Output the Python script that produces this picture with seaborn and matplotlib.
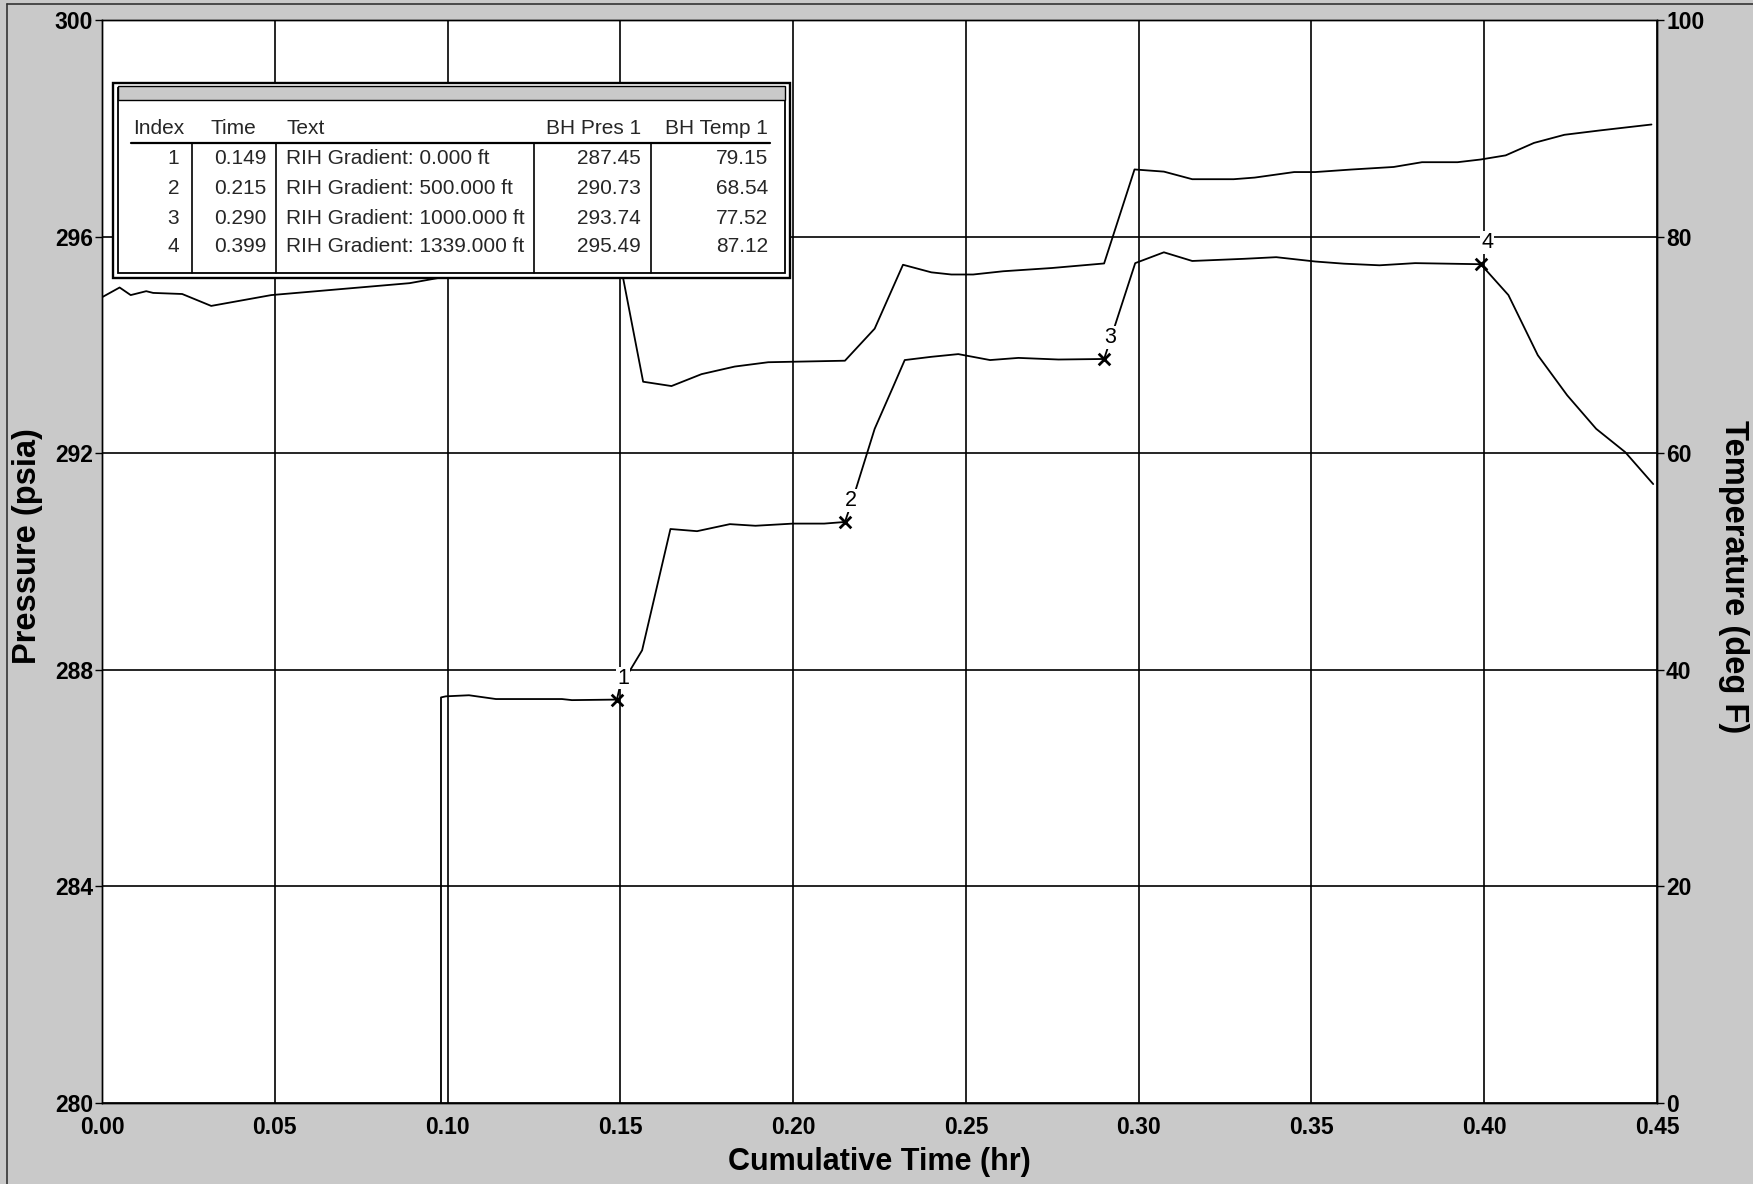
import numpy as np
import pandas as pd
import matplotlib
matplotlib.use("Agg")
import matplotlib.pyplot as plt
import seaborn as sns
from matplotlib.patches import Rectangle
from matplotlib.lines import Line2D

# ---------------- data ----------------
time_ticks = [0.00, 0.05, 0.10, 0.15, 0.20, 0.25, 0.30, 0.35, 0.40, 0.45]
pres_ticks = [280, 284, 288, 292, 296, 300]
temp_ticks = [0, 20, 40, 60, 80, 100]

pres_time = [0.0981, 0.0981, 0.0995, 0.1062, 0.1140, 0.1331, 0.1360, 0.149,
             0.1498, 0.1563, 0.1645, 0.1722, 0.1817, 0.1891, 0.2000, 0.2090,
             0.215, 0.2175, 0.2236, 0.2289, 0.2323, 0.2400, 0.2478, 0.2570,
             0.2652, 0.2768, 0.290, 0.2990, 0.3073, 0.3155, 0.3306, 0.3398,
             0.3511, 0.3594, 0.3697, 0.3800, 0.399, 0.4070, 0.4155, 0.4240,
             0.4324, 0.4408, 0.4489]
pres_psia = [279.0, 287.49, 287.51, 287.53, 287.46, 287.46, 287.44, 287.45,
             287.67, 288.36, 290.60, 290.56, 290.69, 290.66, 290.70, 290.70,
             290.73, 291.20, 292.45, 293.22, 293.72, 293.78, 293.83, 293.72,
             293.76, 293.73, 293.74, 295.51, 295.71, 295.55, 295.59, 295.62,
             295.54, 295.50, 295.47, 295.51, 295.49, 294.92, 293.81, 293.07,
             292.45, 292.02, 291.43]

temp_time = [0.0, 0.0051, 0.0083, 0.0128, 0.0148, 0.0232, 0.0316, 0.049,
             0.089, 0.149, 0.1566, 0.1648, 0.1735, 0.1831, 0.1928, 0.215,
             0.2236, 0.2318, 0.2400, 0.2458, 0.2521, 0.2608, 0.2749, 0.290,
             0.2988, 0.3073, 0.3155, 0.3275, 0.3336, 0.3450, 0.3511, 0.3614,
             0.3738, 0.3820, 0.3923, 0.399, 0.4062, 0.4144, 0.4232, 0.4334,
             0.4484]
temp_degf = [74.4, 75.3, 74.6, 74.96, 74.8, 74.7, 73.6, 74.6,
             75.7, 79.15, 66.6, 66.2, 67.3, 68.0, 68.4, 68.54,
             71.5, 77.4, 76.7, 76.5, 76.5, 76.8, 77.1, 77.52,
             86.2, 86.0, 85.3, 85.3, 85.45, 85.96, 85.96, 86.19,
             86.43, 86.87, 86.87, 87.12, 87.5, 88.65, 89.4, 89.8,
             90.35]

pt_index = [1, 2, 3, 4]
pt_time = [0.149, 0.215, 0.290, 0.399]
pt_text = ["RIH Gradient: 0.000 ft", "RIH Gradient: 500.000 ft",
           "RIH Gradient: 1000.000 ft", "RIH Gradient: 1339.000 ft"]
pt_pres = [287.45, 290.73, 293.74, 295.49]
pt_temp = [79.15, 68.54, 77.52, 87.12]

table_headers = ["Index", "Time", "Text", "BH Pres 1", "BH Temp 1"]

# ---------------- style ----------------
sns.set_theme(style="white")
plt.rcParams['font.family'] = ['Liberation Sans', 'DejaVu Sans']

BG = '#c9c9c9'
W, H = 1753, 1184
fig = plt.figure(figsize=(W / 100, H / 100), dpi=100, facecolor=BG)

ax = fig.add_axes([102 / W, 1 - 1103 / H, 1555 / W, 1083 / H])
ax.set_facecolor('white')

pres_df = pd.DataFrame({'t': pres_time, 'p': pres_psia})
sns.lineplot(data=pres_df, x='t', y='p', ax=ax, color='black', lw=1.3,
             sort=False, estimator=None)

pts_df = pd.DataFrame({'t': pt_time, 'p': pt_pres, 'i': pt_index})
sns.scatterplot(data=pts_df, x='t', y='p', ax=ax, marker='x', s=70,
                color='black', linewidth=2.0, zorder=5)
for i, t, p in zip(pt_index, pt_time, pt_pres):
    ax.annotate(str(i), (t, p), xytext=(4.5, 15.5), textcoords='offset points',
                ha='center', va='center', fontsize=15.5, color='black',
                bbox=dict(fc='white', ec='none', pad=0.6), zorder=6)

ax.set_xlim(0, 0.45)
ax.set_ylim(280, 300)
ax.set_xticks(time_ticks)
ax.set_xticklabels([f"{v:.2f}" for v in time_ticks], fontweight='bold', fontsize=16.5)
ax.set_yticks(pres_ticks)
ax.set_yticklabels([str(v) for v in pres_ticks], fontweight='bold', fontsize=16.5)
ax.grid(True, color='black', lw=1.2)
ax.tick_params(axis='x', length=0, pad=9, colors='black')
ax.tick_params(axis='y', direction='out', length=5, width=1, pad=1.5, colors='black', left=True)
for s in ax.spines.values():
    s.set_color('black')
    s.set_linewidth(1.0)
ax.set_xlabel('Cumulative Time (hr)', fontsize=22, fontweight='bold', labelpad=6, color='black')
ax.set_ylabel('Pressure (psia)', fontsize=23.5, fontweight='bold', color='black')
ax.yaxis.set_label_coords(-0.038, 0.514)

ax2 = ax.twinx()
temp_df = pd.DataFrame({'t': temp_time, 'T': temp_degf})
sns.lineplot(data=temp_df, x='t', y='T', ax=ax2, color='black', lw=1.3,
             sort=False, estimator=None)
ax2.set_ylim(0, 100)
ax2.set_xlim(0, 0.45)
ax2.set_yticks(temp_ticks)
ax2.set_yticklabels([str(v) for v in temp_ticks], fontweight='bold', fontsize=16.5)
ax2.grid(False)
ax2.tick_params(axis='y', direction='out', length=5, width=1, pad=1.5, colors='black', right=True)
ax2.set_ylabel('Temperature (deg F)', fontsize=23.5, fontweight='bold', rotation=270,
               va='bottom', color='black')
ax2.yaxis.set_label_coords(1.0395, 0.486)
for s in ax2.spines.values():
    s.set_color('black')
    s.set_linewidth(1.0)

# ---------------- table box ----------------
TW, TH = 677, 195
tax = fig.add_axes([113 / W, 1 - 278 / H, TW / W, TH / H])
tax.set_zorder(10)
tax.set_xlim(0, TW)
tax.set_ylim(TH, 0)
tax.axis('off')
tax.add_patch(Rectangle((0, 0), TW, TH, fc='white', ec='black', lw=1.7, clip_on=False))
tax.add_patch(Rectangle((5, 5), TW - 10, TH - 10, fc='none', ec='black', lw=1.3, clip_on=False))
tax.add_patch(Rectangle((5, 3), TW - 10, 14, fc=BG, ec='black', lw=1.0, clip_on=False))

fs = 15
hdr_y = 45
tax.text(20, hdr_y, table_headers[0], ha='left', va='center', fontsize=fs)
tax.text(97, hdr_y, table_headers[1], ha='left', va='center', fontsize=fs)
tax.text(173, hdr_y, table_headers[2], ha='left', va='center', fontsize=fs)
tax.text(528, hdr_y, table_headers[3], ha='right', va='center', fontsize=fs)
tax.text(655, hdr_y, table_headers[4], ha='right', va='center', fontsize=fs)
tax.add_line(Line2D([18, 657], [60, 60], color='black', lw=1.6))
for xs in [79, 163, 421, 538]:
    tax.add_line(Line2D([xs, xs], [60, TH - 5], color='black', lw=1.2))

row_y = [76, 105.5, 135, 164]
for ry, i, t, txt, p, tp in zip(row_y, pt_index, pt_time, pt_text, pt_pres, pt_temp):
    tax.text(66, ry, str(i), ha='right', va='center', fontsize=fs)
    tax.text(153, ry, f"{t:.3f}", ha='right', va='center', fontsize=fs)
    tax.text(173, ry, txt, ha='left', va='center', fontsize=fs)
    tax.text(528, ry, f"{p:.2f}", ha='right', va='center', fontsize=fs)
    tax.text(655, ry, f"{tp:.2f}", ha='right', va='center', fontsize=fs)

# figure frame lines (scan border)
fig.add_artist(Line2D([7 / W, 7 / W], [0, 1 - 4 / H], transform=fig.transFigure,
                      color='#333333', lw=1.2))
fig.add_artist(Line2D([7 / W, 1], [1 - 4 / H, 1 - 4 / H], transform=fig.transFigure,
                      color='#333333', lw=1.2))

fig.savefig('out.png', dpi=100, facecolor=BG)
